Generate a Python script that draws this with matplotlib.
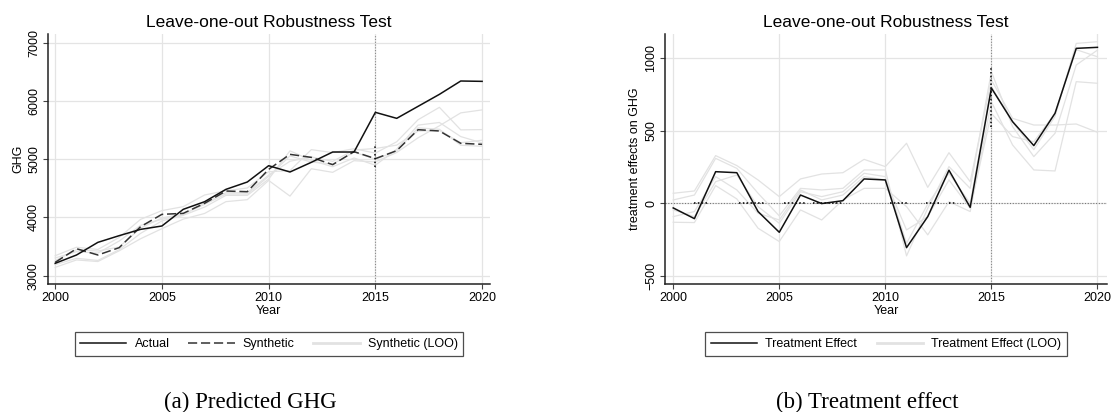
import matplotlib
matplotlib.use("Agg")
import matplotlib.pyplot as plt

plt.rcParams['font.family'] = ['Liberation Sans', 'DejaVu Sans']

years = list(range(2000, 2021))

actual = [3212, 3355, 3572, 3687, 3795, 3853, 4139, 4270, 4482, 4608, 4888,
          4780, 4946, 5123, 5123, 5804, 5701, 5907, 6113, 6342, 6336]
synthetic = [3229, 3463, 3355, 3481, 3841, 4053, 4070, 4242, 4453, 4442, 4825,
             5083, 5031, 4906, 5129, 5009, 5146, 5506, 5484, 5272, 5255]

synth_loo_a = [3143, 3270, 3243, 3427, 3634, 3807, 3971, 4068, 4271, 4305, 4635,
               4366, 4836, 4774, 4974, 4953, 5115, 5367, 5573, 5795, 5846]
synth_loo_b = [3343, 3488, 3450, 3657, 3967, 4117, 4185, 4385, 4459, 4505, 4785,
               4803, 5164, 5112, 5180, 5104, 5299, 5677, 5890, 5503, 5508]
synth_loo_c = [3189, 3298, 3262, 3446, 3726, 3940, 4036, 4178, 4379, 4378, 4658,
               5143, 4980, 4870, 5020, 4896, 5172, 5585, 5630, 5388, 5279]
synth_loo_d = [3258, 3447, 3423, 3492, 3818, 3991, 4059, 4224, 4402, 4401, 4704,
               5056, 4951, 4916, 5123, 4999, 5141, 5537, 5513, 5239, 5221]
synth_loo_e = [3304, 3412, 3388, 3595, 3864, 3968, 4047, 4247, 4425, 4424, 4727,
               4964, 5038, 4962, 5157, 5184, 5241, 5482, 5492, 5282, 5325]

effect = [-32, -106, 218, 211, -57, -200, 57, -2, 18, 168, 161,
          -306, -92, 228, -28, 795, 563, 398, 621, 1069, 1076]

effect_loo_a = [69, 85, 329, 260, 161, 46, 168, 202, 211, 303, 253,
                414, 110, 349, 149, 851, 586, 540, 540, 547, 490]
effect_loo_b = [-131, -133, 122, 30, -172, -264, -46, -115, 23, 103, 103,
                -23, -218, 11, -57, 700, 402, 230, 223, 839, 828]
effect_loo_c = [23, 57, 310, 241, 69, -87, 103, 92, 103, 230, 230,
                -363, -34, 253, 103, 908, 529, 322, 483, 954, 1057]
effect_loo_d = [-46, -92, 149, 195, -23, -138, 80, 46, 80, 207, 184,
                -276, -5, 207, 0, 805, 560, 370, 600, 1103, 1115]
effect_loo_e = [-92, -57, 184, 92, -69, -115, 92, 23, 57, 184, 161,
                -184, -92, 161, -34, 620, 460, 425, 621, 1060, 1011]

# darker dotted stretches of the reference lines (where LOO lines cross them)
vline_dark_left = (4871, 5231)
vline_dark_right = (528, 944)
zero_dark_spans = [(2001.0, 2001.6), (2003.1, 2004.3), (2005.2, 2006.2),
                   (2006.6, 2008.0), (2010.2, 2011.0), (2011.9, 2012.6),
                   (2013.0, 2013.3)]

xticks = [2000, 2005, 2010, 2015, 2020]
yticks_left = [3000, 4000, 5000, 6000, 7000]
yticks_right = [-500, 0, 500, 1000]
treat_year = 2015

title = "Leave-one-out Robustness Test"
caption_a = "(a) Predicted GHG"
caption_b = "(b) Treatment effect"

W, H = 1114, 412
fig = plt.figure(figsize=(W / 100, H / 100), dpi=100)


def px_axes(l, r, t, b):
    return fig.add_axes([l / W, 1 - b / H, (r - l) / W, (b - t) / H])


GRID = '#e4e4e4'
LOO = '#e2e2e2'
DOT = (0, (1, 1.5))


def style(ax, yticks):
    for s in ['top', 'right']:
        ax.spines[s].set_visible(False)
    for s in ['left', 'bottom']:
        ax.spines[s].set_color('#222222')
        ax.spines[s].set_linewidth(1.1)
    ax.set_xticks(xticks)
    ax.set_yticks(yticks)
    ax.grid(True, color=GRID, linewidth=0.9)
    ax.set_axisbelow(True)
    ax.tick_params(axis='both', direction='out', length=3.5, width=0.8,
                   color='#444444', labelsize=9, pad=2)
    ax.tick_params(axis='y', labelrotation=90)
    for lab in ax.get_yticklabels():
        lab.set_va('center')
    ax.set_title(title, fontsize=12.5, pad=5)
    ax.set_xlabel("Year", fontsize=9, labelpad=1)


# ---- Left panel ----
ax1 = px_axes(47.7, 490, 34, 284.3)
for s in [synth_loo_a, synth_loo_b, synth_loo_c, synth_loo_d, synth_loo_e]:
    ax1.plot(years, s, color=LOO, linewidth=0.9, zorder=2)
ax1.plot([], [], color=LOO, linewidth=2, label="Synthetic (LOO)")
ax1.plot(years, actual, color='#111111', linewidth=1.1, zorder=4, label="Actual")
ax1.plot(years, synthetic, color='#333333', linewidth=1.1, dashes=(6, 2.5),
         zorder=3, label="Synthetic")
ax1.axvline(treat_year, color='#888888', linestyle=DOT, linewidth=0.8, zorder=1)
ax1.plot([treat_year, treat_year], vline_dark_left, color='#000000',
         linestyle=DOT, linewidth=1.1, zorder=5)
ax1.set_xlim(1999.65, 2020.37)
ax1.set_ylim(2852, 7149)
style(ax1, yticks_left)
ax1.set_ylabel("GHG", fontsize=9, labelpad=3)
h, l = ax1.get_legend_handles_labels()
order = [1, 2, 0]
leg1 = fig.legend([h[i] for i in order], [l[i] for i in order],
                  loc='upper center', bbox_to_anchor=(268.9 / W, 1 - 326 / H),
                  ncol=3, fontsize=9, frameon=True, fancybox=False,
                  edgecolor='#222222', handlelength=3.7, handletextpad=0.65,
                  columnspacing=1.5, borderpad=0.45)
leg1.get_frame().set_linewidth(0.9)

# ---- Right panel ----
ax2 = px_axes(665, 1107, 34, 284.3)
for s in [effect_loo_a, effect_loo_b, effect_loo_c, effect_loo_d, effect_loo_e]:
    ax2.plot(years, s, color=LOO, linewidth=0.9, zorder=2)
ax2.plot([], [], color=LOO, linewidth=2, label="Treatment Effect (LOO)")
ax2.plot(years, effect, color='#111111', linewidth=1.1, zorder=4,
         label="Treatment Effect")
ax2.axvline(treat_year, color='#888888', linestyle=DOT, linewidth=0.8, zorder=1)
ax2.axhline(0, color='#777777', linestyle=DOT, linewidth=0.8, zorder=1)
ax2.plot([treat_year, treat_year], vline_dark_right, color='#000000',
         linestyle=DOT, linewidth=1.1, zorder=3)
for x0, x1 in zero_dark_spans:
    ax2.plot([x0, x1], [0, 0], color='#000000', linestyle=DOT,
             linewidth=1.1, zorder=3)
ax2.set_xlim(1999.613, 2020.45)
ax2.set_ylim(-559, 1168)
style(ax2, yticks_right)
ax2.set_ylabel("treatment effects on GHG", fontsize=9, labelpad=3)
h, l = ax2.get_legend_handles_labels()
order = [1, 0]
leg2 = fig.legend([h[i] for i in order], [l[i] for i in order],
                  loc='upper center', bbox_to_anchor=(886 / W, 1 - 326 / H),
                  ncol=2, fontsize=9, frameon=True, fancybox=False,
                  edgecolor='#222222', handlelength=3.7, handletextpad=0.65,
                  columnspacing=1.6, borderpad=0.45)
leg2.get_frame().set_linewidth(0.9)

# ---- Captions ----
fig.text(250.5 / W, 1 - 408 / H, caption_a, ha='center', va='baseline',
         fontsize=16.5, family=['Liberation Serif', 'DejaVu Serif'])
fig.text(867 / W, 1 - 408 / H, caption_b, ha='center', va='baseline',
         fontsize=16.5, family=['Liberation Serif', 'DejaVu Serif'])

fig.savefig("out.png", dpi=100)
